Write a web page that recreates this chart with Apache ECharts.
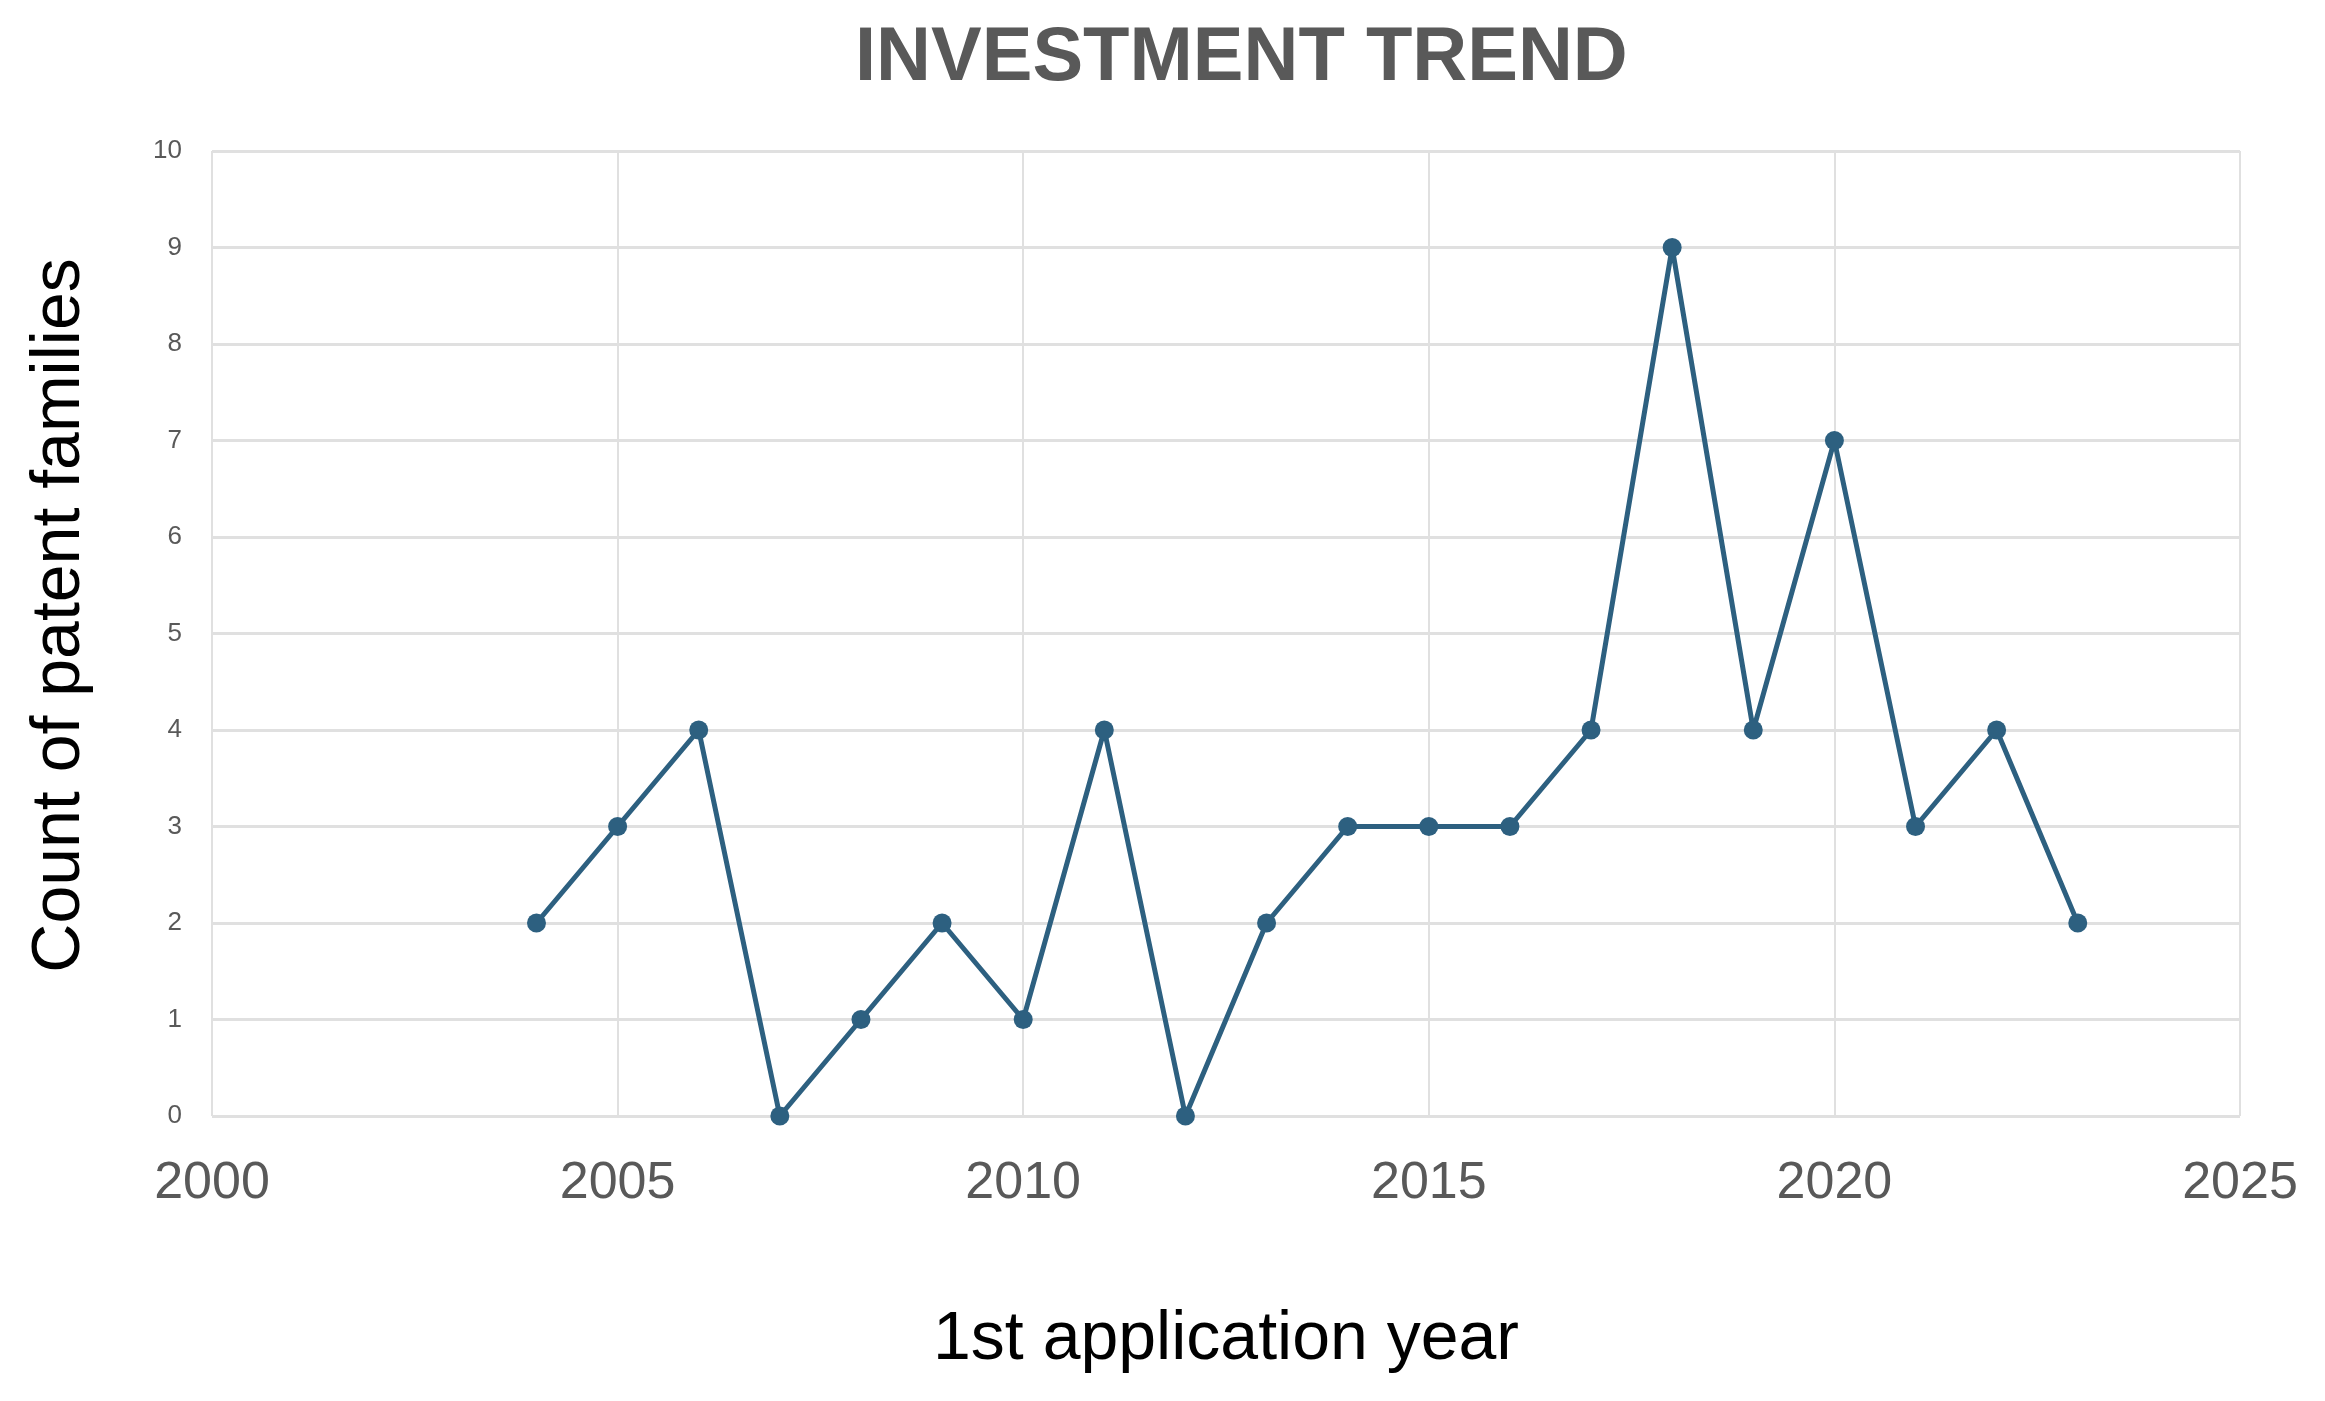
<!DOCTYPE html>
<html>
<head>
<meta charset="utf-8">
<script src="https://cdn.jsdelivr.net/npm/echarts@6/dist/echarts.min.js"></script>
<style>
html,body{margin:0;padding:0;background:#fff;}
#chart{width:2325px;height:1401px;}
</style>
</head>
<body>
<div id="chart"></div>
<script>
const years = [2004,2005,2006,2007,2008,2009,2010,2011,2012,2013,2014,2015,2016,2017,2018,2019,2020,2021,2022,2023];
const counts = [2,3,4,0,1,2,1,4,0,2,3,3,3,4,9,4,7,3,4,2];
const titleText = 'INVESTMENT TREND';
const xName = '1st application year';
const yName = 'Count of patent families';

const chart = echarts.init(document.getElementById('chart'));
const font = 'Liberation Sans, Arial, sans-serif';
chart.setOption({
  animation: false,
  backgroundColor: '#ffffff',
  title: {
    text: titleText,
    left: 850,
    top: 16,
    textStyle: {fontFamily: font, fontSize: 76, fontWeight: 'bold', color: '#595959'}
  },
  grid: {left: 212, right: 85, top: 151, bottom: 285},
  xAxis: {
    type: 'value',
    min: 2000, max: 2025, interval: 5,
    name: xName,
    nameLocation: 'middle',
    nameGap: 190,
    nameTextStyle: {fontFamily: font, fontSize: 68, color: '#000000'},
    axisLine: {show: false},
    axisTick: {show: false},
    axisLabel: {fontFamily: font, fontSize: 52, color: '#595959', margin: 42, formatter: v => String(v)},
    splitLine: {show: true, lineStyle: {color: '#e0e0e0', width: 2}}
  },
  yAxis: {
    type: 'value',
    min: 0, max: 10, interval: 1,
    name: yName,
    nameLocation: 'middle',
    nameGap: 118,
    nameTextStyle: {fontFamily: font, fontSize: 68, color: '#000000', padding: [0, 0, 0, 36]},
    axisLine: {show: false},
    axisTick: {show: false},
    axisLabel: {fontFamily: font, fontSize: 26, color: '#595959', margin: 30},
    splitLine: {show: true, lineStyle: {color: '#e0e0e0', width: 3}}
  },
  series: [{
    type: 'line',
    data: years.map((y, i) => [y, counts[i]]),
    symbol: 'circle',
    symbolSize: 19,
    lineStyle: {color: '#2d6080', width: 5},
    itemStyle: {color: '#2d6080'}
  }]
});
</script>
</body>
</html>
